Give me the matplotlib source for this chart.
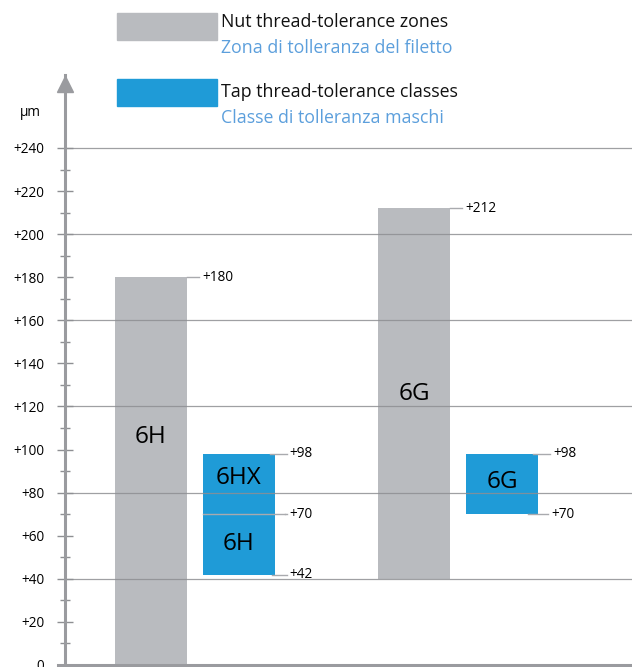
import matplotlib.pyplot as plt

# thread tolerance limits in micrometres
nut_classes = ["6H", "6G"]
nut_lower = [0, 40]
nut_upper = [180, 212]

tap_classes = ["6H", "6G"]
tap_lower = [42, 70]
tap_upper = [98, 98]
tap_split = [70, None]          # 6H tap band is split into 6H / 6HX
tap_split_names = [("6H", "6HX"), None]

y_ticks = list(range(0, 241, 20))
grid_values = list(range(40, 241, 40))

legend_en = ["Nut thread-tolerance zones", "Tap thread-tolerance classes"]
legend_it = ["Zona di tolleranza del filetto", "Classe di tolleranza maschi"]

GREY = "#b9bbbf"
BLUE = "#1f9bd7"
AXIS = "#9a9b9f"
LINE = "#8e8f93"
IT_BLUE = "#5c9fdc"

plt.rcParams["font.family"] = ["Open Sans", "DejaVu Sans"]

fig = plt.figure(figsize=(6.32, 6.67), dpi=100)
# axes in pixel-like units, x=0 at the y axis
ax = fig.add_axes([65 / 632, 2 / 667, 567 / 632, 590 / 667])
ax.set_xlim(0, 567)
ax.set_ylim(0, 590 / 2.1542)

nut_x = [86, 349]
tap_x = [173.5, 437]
bar_w = 72
SMALL = 9.8
BIG = 17.5

for x, lo, hi in zip(nut_x, nut_lower, nut_upper):
    ax.bar(x, hi - lo, bottom=lo, width=bar_w, color=GREY, zorder=1)
for x, lo, hi in zip(tap_x, tap_lower, tap_upper):
    ax.bar(x, hi - lo, bottom=lo, width=bar_w, color=BLUE, zorder=1)

# gridlines on top of the bars
for g in grid_values:
    ax.axhline(g, color=LINE, lw=0.9, alpha=0.85, zorder=2)

# leader lines and value labels
def leader(x0, x1, y, text):
    ax.plot([x0, x1], [y, y], color="#a9aaae", lw=1, zorder=3, clip_on=False)
    ax.text(x1 + 3, y, text, fontsize=SMALL, va="center", ha="left", zorder=4)

for x, lo, hi in zip(nut_x, nut_lower, nut_upper):
    leader(x + bar_w / 2, x + bar_w / 2 + 12, hi, f"+{hi}")

for i, (x, lo, hi) in enumerate(zip(tap_x, tap_lower, tap_upper)):
    right = x + bar_w / 2
    leader(right - 5, right + 12, hi, f"+{hi}")
    if tap_split[i] is not None:
        s = tap_split[i]
        ax.plot([x - bar_w / 2, right + 10], [s, s], color="#a9aaae", lw=1, zorder=3)
        leader(right + 10, right + 12, s, f"+{s}")
        leader(right - 3, right + 12, lo, f"+{lo}")
        low_name, high_name = tap_split_names[i]
        ax.text(x, (lo + s) / 2, low_name, fontsize=BIG, ha="center", va="center", zorder=4)
        ax.text(x, (s + hi) / 2 + 3, high_name, fontsize=BIG, ha="center", va="center", zorder=4)
    else:
        leader(right - 10, right + 10, lo, f"+{lo}")
        ax.text(x, (lo + hi) / 2 + 1, tap_classes[i], fontsize=BIG, ha="center", va="center", zorder=4)

ax.text(nut_x[0], 106, nut_classes[0], fontsize=BIG, ha="center", va="center", zorder=4)
ax.text(nut_x[1], (nut_lower[1] + nut_upper[1]) / 2, nut_classes[1], fontsize=BIG,
        ha="center", va="center", zorder=4)

# axes styling
for side in ["top", "right"]:
    ax.spines[side].set_visible(False)
ax.spines["left"].set_color(AXIS)
ax.spines["left"].set_linewidth(2.2)
ax.spines["bottom"].set_color(AXIS)
ax.spines["bottom"].set_linewidth(2.2)
ax.spines["bottom"].set_bounds(-7, 567)
ax.spines["bottom"].set_clip_on(False)

ax.set_xticks([])
ax.set_yticks(y_ticks)
ax.set_yticklabels(["0"] + [f"+{v}" for v in y_ticks[1:]])
ax.set_yticks(range(10, 241, 20), minor=True)
ax.tick_params(axis="y", which="major", direction="inout", length=12, width=1,
               color=LINE, labelsize=SMALL, pad=9)
ax.tick_params(axis="y", which="minor", direction="inout", length=7, width=1, color=LINE)

# arrow head on the y axis
ax.plot(0, 590 / 2.1542 - 4, marker="^", markersize=11, color=AXIS, clip_on=False, zorder=5)
fig.text(30 / 632, 1 - 113 / 667, "µm", fontsize=SMALL, ha="center", va="center")

# legend
fig.patches.append(plt.Rectangle((117 / 632, 1 - 40 / 667), 100 / 632, 27 / 667,
                                 transform=fig.transFigure, color=GREY))
fig.patches.append(plt.Rectangle((117 / 632, 1 - 106 / 667), 100 / 632, 27 / 667,
                                 transform=fig.transFigure, color=BLUE))
for i, top in enumerate([22, 92]):
    fig.text(221 / 632, 1 - top / 667, legend_en[i], fontsize=12.8, ha="left", va="center",
             color="#111111")
    fig.text(221 / 632, 1 - (top + 26) / 667, legend_it[i], fontsize=12.8, ha="left",
             va="center", color=IT_BLUE)

fig.savefig("out.png", dpi=100)
